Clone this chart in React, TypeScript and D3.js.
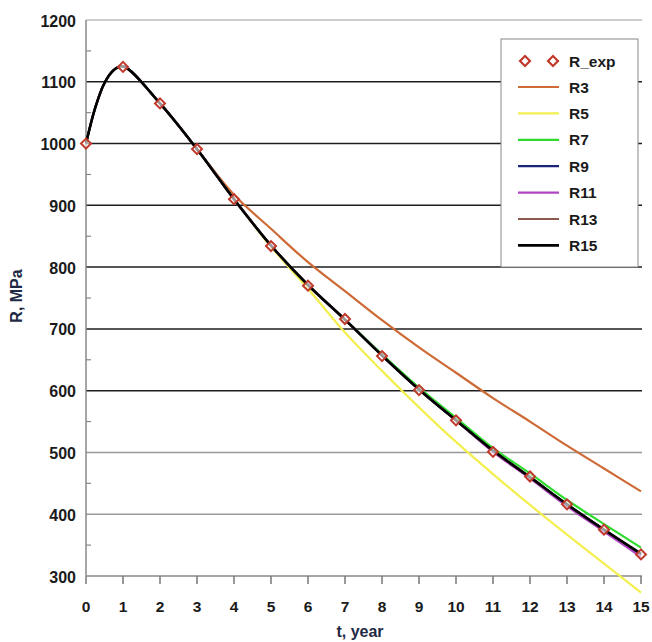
import React, { useEffect, useRef } from 'react';
import * as d3 from 'd3';

// experimental points
const tExp = [0, 1, 2, 3, 4, 5, 6, 7, 8, 9, 10, 11, 12, 13, 14, 15];
const rExp = [1000, 1124, 1065, 991, 910, 834, 770, 716, 656, 601, 552, 501, 461, 416, 375, 335];

// fitted curves
const tFit = [0, 0.25, 0.5, 0.75, 1, 2, 3, 4, 5, 6, 7, 8, 9, 10, 11, 12, 13, 14, 15];
const r3 = [1000, 1058, 1098, 1119, 1125, 1065, 991, 917, 862, 808, 761, 714, 670, 629, 588, 550, 511, 474, 437];
const r5 = [1000, 1058, 1098, 1119, 1125, 1065, 991, 910, 833, 765, 694, 632, 573, 517, 465, 415, 367, 320, 273];
const r7 = [1000, 1058, 1098, 1119, 1125, 1065, 991, 910, 835, 771, 715, 659, 605, 556, 507, 466, 423, 384, 346];
const r9 = [1000, 1058, 1098, 1119, 1125, 1065, 991, 910, 835, 771, 715, 657, 602, 552, 503, 460, 416, 375, 334];
const r11 = [1000, 1058, 1098, 1119, 1125, 1065, 991, 910, 835, 771, 715, 657, 602, 552, 501, 458, 413, 372, 331];
const r13 = [1000, 1058, 1098, 1119, 1125, 1065, 991, 910, 835, 771, 715, 657, 602, 552, 503, 460, 416, 375, 336];
const r15 = [1000, 1058, 1098, 1119, 1125, 1065, 991, 910, 835, 771, 715, 657, 602, 552, 503, 460, 416, 375, 336];

const seriesNames = ['R3', 'R5', 'R7', 'R9', 'R11', 'R13', 'R15'];
const seriesValues = [r3, r5, r7, r9, r11, r13, r15];
const seriesColors = ['#cd6a36', '#f3ef4e', '#2edc2e', '#1b237a', '#b044c4', '#8a5a4c', '#000000'];

const yTicks = [300, 400, 500, 600, 700, 800, 900, 1000, 1100, 1200];
const xTicks = [0, 1, 2, 3, 4, 5, 6, 7, 8, 9, 10, 11, 12, 13, 14, 15];

export default function App() {
  const chart = useRef<SVGSVGElement>(null);

  useEffect(() => {
    const svg = d3.select(chart.current);
    svg.html('');

    const x = d3.scaleLinear().domain([0, 15]).range([86, 641]);
    const y = d3.scaleLinear().domain([300, 1200]).range([576, 20]);
    const font = '"Liberation Sans", Arial, sans-serif';

    // grid lines
    yTicks.filter((v) => v > 300).forEach((v) => {
      svg.append('line')
        .attr('x1', 86).attr('x2', 642)
        .attr('y1', y(v)).attr('y2', y(v))
        .attr('stroke', v <= 500 || v === 1200 ? '#999' : '#1e1e1e')
        .attr('stroke-width', v === 1200 ? 1 : 1.5);
    });

    // axes
    svg.append('line').attr('x1', 86).attr('x2', 86).attr('y1', y(1200)).attr('y2', y(300))
      .attr('stroke', '#888').attr('stroke-width', 1.5);
    svg.append('line').attr('x1', 86).attr('x2', 642).attr('y1', y(300)).attr('y2', y(300))
      .attr('stroke', '#888').attr('stroke-width', 1.5);

    yTicks.slice(0, -1).forEach((v) => {
      svg.append('line').attr('x1', 86).attr('x2', 91)
        .attr('y1', y(v + 50)).attr('y2', y(v + 50))
        .attr('stroke', '#888').attr('stroke-width', 1.2);
    });

    svg.append('g').selectAll('text').data(yTicks).enter().append('text')
      .attr('x', 76).attr('y', (d) => y(d) + 1)
      .attr('text-anchor', 'end').attr('dominant-baseline', 'central')
      .attr('font-family', font).attr('font-weight', 'bold').attr('font-size', 16)
      .attr('fill', '#1a1a1a')
      .text((d) => d);

    svg.append('g').selectAll('line').data(xTicks).enter().append('line')
      .attr('x1', (d) => x(d)).attr('x2', (d) => x(d))
      .attr('y1', 576).attr('y2', 584)
      .attr('stroke', '#777').attr('stroke-width', 1.5);

    svg.append('g').selectAll('text').data(xTicks).enter().append('text')
      .attr('x', (d) => x(d)).attr('y', 612)
      .attr('text-anchor', 'middle')
      .attr('font-family', font).attr('font-weight', 'bold').attr('font-size', 15.5)
      .attr('fill', '#1a1a1a')
      .text((d) => d);

    // axis titles
    svg.append('text').attr('x', 360).attr('y', 637).attr('text-anchor', 'middle')
      .attr('font-family', font).attr('font-weight', 'bold').attr('font-size', 16)
      .attr('fill', '#1f2a44').text('t, year');
    svg.append('text').attr('transform', 'translate(22,296) rotate(-90)').attr('text-anchor', 'middle')
      .attr('font-family', font).attr('font-weight', 'bold').attr('font-size', 16)
      .attr('fill', '#1f2a44').text('R, MPa');

    // curves
    const line = d3.line<number>()
      .x((d, i) => x(tFit[i]))
      .y((d) => y(d))
      .curve(d3.curveCatmullRom);

    seriesValues.forEach((vals, i) => {
      svg.append('path').attr('d', line(vals))
        .attr('fill', 'none')
        .attr('stroke', seriesColors[i])
        .attr('stroke-width', i === 6 ? 2.6 : 2.2);
    });

    // markers
    const diamond = d3.symbol().type(d3.symbolSquare).size(50);
    svg.append('g').selectAll('path').data(rExp).enter().append('path')
      .attr('d', diamond())
      .attr('transform', (d, i) => `translate(${x(tExp[i])},${y(d)}) rotate(45)`)
      .attr('fill', 'white').attr('fill-opacity', 0.6)
      .attr('stroke', '#c0392b').attr('stroke-width', 2);

    // legend
    const lg = svg.append('g');
    lg.append('rect').attr('x', 501).attr('y', 39).attr('width', 137).attr('height', 228)
      .attr('fill', 'white').attr('stroke', '#888').attr('stroke-width', 1);
    [525, 553].forEach((mx) => {
      lg.append('path').attr('d', diamond())
        .attr('transform', `translate(${mx},61) rotate(45)`)
        .attr('fill', 'white').attr('stroke', '#c0392b').attr('stroke-width', 2.2);
    });
    lg.append('text').attr('x', 569).attr('y', 61).attr('dominant-baseline', 'central')
      .attr('font-family', font).attr('font-weight', 'bold').attr('font-size', 15.5)
      .attr('fill', '#1a1a1a').text('R_exp');
    seriesNames.forEach((name, i) => {
      const ly = 87 + i * 26.4;
      lg.append('line').attr('x1', 518).attr('x2', 559).attr('y1', ly).attr('y2', ly)
        .attr('stroke', seriesColors[i]).attr('stroke-width', i === 6 ? 2.6 : 2.2);
      lg.append('text').attr('x', 569).attr('y', ly).attr('dominant-baseline', 'central')
        .attr('font-family', font).attr('font-weight', 'bold').attr('font-size', 15.5)
        .attr('fill', '#1a1a1a').text(name);
    });
  }, []);

  return (
    <svg ref={chart} width={652} height={642} style={{ position: 'absolute', left: 0, top: 0, background: 'white' }} />
  );
}
